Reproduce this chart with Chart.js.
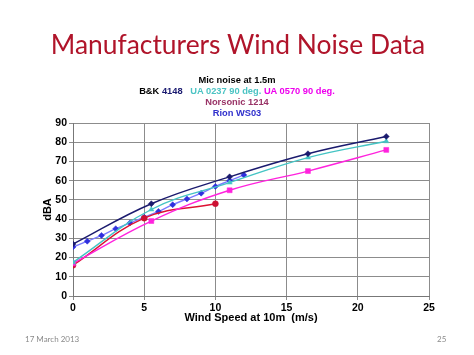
<!DOCTYPE html>
<html><head><meta charset="utf-8">
<script src="https://cdn.jsdelivr.net/npm/chart.js@4/dist/chart.umd.min.js"></script>
<style>
html,body{margin:0;padding:0;background:#fff;}
#wrap{position:relative;width:474px;height:355px;overflow:hidden;}
#c{position:absolute;left:0;top:0;}
.t{position:absolute;white-space:nowrap;}
#title{left:0;width:474px;text-align:center;top:27px;font-family:Lato,"Open Sans",sans-serif;font-size:26.4px;color:#B0142A;line-height:34px;padding-left:2px;box-sizing:border-box;}
.lg{font-family:"Liberation Sans",Arial,sans-serif;font-weight:bold;font-size:9.3px;line-height:11px;left:0;width:474px;text-align:center;}
.ft{font-family:Lato,"Open Sans",sans-serif;font-size:8px;color:#8a8a8a;top:334px;}
</style></head>
<body><div id="wrap">
<canvas id="c" width="474" height="355"></canvas>
<div class="t" id="title">Manufacturers Wind Noise Data</div>
<div class="t lg" style="top:75px;color:#000;">Mic noise at 1.5m</div>
<div class="t lg" style="top:86px;"><span style="color:#000">B&amp;K </span><span style="color:#1a1a70">4148</span>&nbsp;&nbsp;&nbsp;<span style="color:#4cc4c4">UA 0237 90 deg.</span> <span style="color:#ee00ee">UA 0570 90 deg.</span></div>
<div class="t lg" style="top:97px;color:#993366;">Norsonic 1214</div>
<div class="t lg" style="top:108px;color:#2f2fcc;">Rion WS03</div>
<div class="t ft" style="left:25px;">17 March 2013</div>
<div class="t ft" style="left:437px;">25</div>
</div>
<script>
// Data
const bkX = [0, 5.5, 11, 16.5, 22];
const bkY = [27, 48, 62, 74, 83];
const ua0237X = [0, 5.5, 11, 16.5, 22];
const ua0237Y = [17.5, 45, 59, 72, 80.5];
const ua0570X = [0, 5.5, 11, 16.5, 22];
const ua0570Y = [17, 39, 55, 65, 76];
const norX = [0, 5, 10];
const norY = [16, 40.5, 48];
const rionX = [0, 1, 2, 3, 4, 5, 6, 7, 8, 9, 10, 11, 12];
const rionY = [25.5, 28.5, 31.5, 35, 38, 41, 44, 47.5, 50.5, 53.5, 57, 60, 63];
const xTicks = [0, 5, 10, 15, 20, 25];
const yTicks = [0, 10, 20, 30, 40, 50, 60, 70, 80, 90];

const pts = (xs, ys) => xs.map((x, i) => ({x: x, y: ys[i]}));
const tickFont = {family: "'Liberation Sans', Arial, sans-serif", weight: 'bold', size: 10.5};

function ds(label, xs, ys, line, mk, style, r, order) {
  return {label, data: pts(xs, ys), showLine: true, tension: 0.4,
    borderColor: line, backgroundColor: mk, pointBackgroundColor: mk, pointBorderColor: mk,
    pointStyle: style, pointRadius: r, pointBorderWidth: 0.5, borderWidth: 1.4, order};
}

new Chart(document.getElementById('c'), {
  type: 'scatter',
  data: {datasets: [
    ds('Rion WS03', rionX, rionY, '#7b7bff', '#2f2fdd', 'rectRot', 3, 5),
    ds('Norsonic 1214', norX, norY, '#dd1133', '#cc1133', 'circle', 3, 4),
    ds('UA 0570 90 deg.', ua0570X, ua0570Y, '#ff22dd', '#ff22dd', 'rect', 3.5, 3),
    ds('UA 0237 90 deg.', ua0237X, ua0237Y, '#44c4c4', '#44c4c4', 'triangle', 3, 2),
    ds('B&K 4148', bkX, bkY, '#1a1a6e', '#1a1a6e', 'rectRot', 3, 1)
  ]},
  options: {
    responsive: false, animation: false,
    layout: {padding: {left: 41, top: 123, right: 45, bottom: 30}},
    plugins: {legend: {display: false}, tooltip: {enabled: false}},
    scales: {
      x: {type: 'linear', min: 0, max: 25,
        afterBuildTicks: s => { s.ticks = xTicks.map(v => ({value: v})); },
        afterFit: s => { s.height = 29; },
        grid: {color: '#8c8c8c', lineWidth: 1, tickLength: 4, tickColor: '#8c8c8c'},
        border: {color: '#777', width: 1},
        ticks: {font: tickFont, color: '#000', padding: 2, maxRotation: 0},
        title: {display: true, text: 'Wind Speed at 10m  (m/s)', font: {family: "'Liberation Sans', Arial, sans-serif", weight: 'bold', size: 11}, color: '#000', padding: 0}
      },
      y: {type: 'linear', min: 0, max: 90,
        afterBuildTicks: s => { s.ticks = yTicks.map(v => ({value: v})); },
        afterFit: s => { s.width = 32; },
        grid: {color: '#8c8c8c', lineWidth: 1, tickLength: 4, tickColor: '#8c8c8c'},
        border: {color: '#777', width: 1},
        ticks: {font: tickFont, color: '#000', padding: 2},
        title: {display: true, text: 'dBA', font: {family: "'Liberation Sans', Arial, sans-serif", weight: 'bold', size: 11}, color: '#000', padding: 0}
      }
    }
  }
});
</script>
</body></html>
